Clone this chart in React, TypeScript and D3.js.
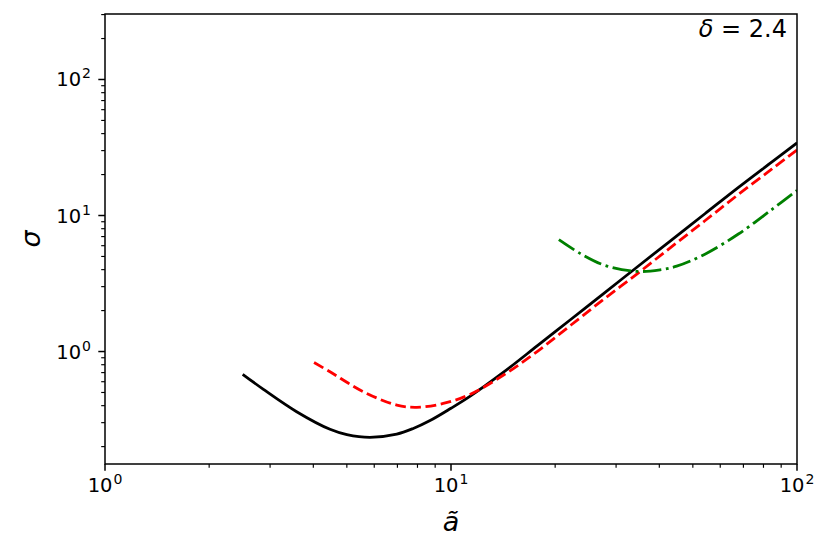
import React from "react";
import * as d3 from "d3";

const W = 830;
const H = 554;
const M = { left: 105, right: 797, top: 14, bottom: 464 };

// Solid black curve (ã, σ)
const blackA = [2.5, 2.87, 3.58, 4.47, 5.0, 5.83, 6.97, 7.78, 8.7, 10, 11.34, 14.19, 17.74, 22.18, 27.72, 34.67, 43.36, 54.18, 67.74, 84.67, 100];
const blackS = [0.68, 0.527, 0.361, 0.268, 0.245, 0.234, 0.247, 0.272, 0.311, 0.383, 0.468, 0.705, 1.1, 1.72, 2.69, 4.22, 6.6, 10.3, 16.1, 24.8, 34.2];

// Red dashed curve
const redA = [4.02, 4.47, 5.58, 6.97, 7.96, 9.5, 11.34, 14.19, 17.74, 22.18, 27.72, 34.67, 43.36, 54.18, 67.74, 84.67, 100];
const redS = [0.83, 0.71, 0.506, 0.404, 0.389, 0.415, 0.484, 0.672, 1.0, 1.56, 2.44, 3.76, 5.88, 9.15, 14.3, 22.0, 30.3];

// Green dash-dot curve
const greenA = [20.5, 23.6, 28.0, 34.5, 40.2, 44.9, 54.2, 67.7, 84.7, 100];
const greenS = [6.64, 5.27, 4.28, 3.88, 3.99, 4.24, 5.2, 7.31, 11.1, 15.3];

const xMajor = [1, 10, 100];
const xMajorExp = ["0", "1", "2"];
const yMajor = [1, 10, 100];
const yMajorExp = ["0", "1", "2"];

const xDomain = [1, 100];
const yDomain = [0.149, 303];

export default function App() {
  const x = d3.scaleLog().domain(xDomain).range([M.left, M.right]);
  const y = d3.scaleLog().domain(yDomain).range([M.bottom, M.top]);

  const line = d3
    .line<[number, number]>()
    .x((d) => x(d[0]))
    .y((d) => y(d[1]))
    .curve(d3.curveCatmullRom.alpha(0.5));

  const zip = (a: number[], s: number[]) => a.map((v, i) => [v, s[i]] as [number, number]);

  const xMinor: number[] = [];
  for (const dec of [1, 10]) for (let k = 2; k <= 9; k++) xMinor.push(dec * k);
  const yMinor: number[] = [];
  for (const dec of [0.1, 1, 10, 100]) for (let k = 2; k <= 9; k++) {
    const v = dec * k;
    if (v >= yDomain[0] && v <= yDomain[1]) yMinor.push(v);
  }

  const font = "DejaVu Sans, sans-serif";
  const fs = 19.5;
  const sup = 14;

  return (
    <svg width={W} height={H} style={{ position: "absolute", left: 0, top: 0, background: "#fff" }}>
      <rect x={0} y={0} width={W} height={H} fill="#fff" />
      <defs>
        <clipPath id="plotclip">
          <rect x={M.left} y={M.top} width={M.right - M.left} height={M.bottom - M.top} />
        </clipPath>
      </defs>
      <g clipPath="url(#plotclip)" fill="none" strokeLinejoin="round">
        <path d={line(zip(blackA, blackS)) || ""} stroke="#000" strokeWidth={2.8} />
        <path d={line(zip(redA, redS)) || ""} stroke="#ff0000" strokeWidth={2.8} strokeDasharray="10.7 4.6" />
        <path d={line(zip(greenA, greenS)) || ""} stroke="#008000" strokeWidth={2.8} strokeDasharray="18.4 4.6 2.9 4.6" />
      </g>
      <rect x={M.left} y={M.top} width={M.right - M.left} height={M.bottom - M.top} fill="none" stroke="#000" strokeWidth={1.5} />
      {xMajor.map((v, i) => (
        <g key={"xm" + i}>
          <line x1={x(v)} x2={x(v)} y1={M.bottom} y2={M.bottom + 6.7} stroke="#000" strokeWidth={1.5} />
          <text x={x(v)} y={M.bottom + 28} textAnchor="middle" fontFamily={font} fontSize={fs}>
            10<tspan fontSize={sup} dx={1} dy={-8}>{xMajorExp[i]}</tspan>
          </text>
        </g>
      ))}
      {xMinor.map((v, i) => (
        <line key={"xn" + i} x1={x(v)} x2={x(v)} y1={M.bottom} y2={M.bottom + 3.8} stroke="#000" strokeWidth={1.15} />
      ))}
      {yMajor.map((v, i) => (
        <g key={"ym" + i}>
          <line x1={M.left} x2={M.left - 6.7} y1={y(v)} y2={y(v)} stroke="#000" strokeWidth={1.5} />
          <text x={M.left - 14} y={y(v) + 7} textAnchor="end" fontFamily={font} fontSize={fs}>
            10<tspan fontSize={sup} dx={1} dy={-8}>{yMajorExp[i]}</tspan>
          </text>
        </g>
      ))}
      {yMinor.map((v, i) => (
        <line key={"yn" + i} x1={M.left} x2={M.left - 3.8} y1={y(v)} y2={y(v)} stroke="#000" strokeWidth={1.15} />
      ))}
      <text x={(M.left + M.right) / 2} y={531} textAnchor="middle" fontFamily={font} fontSize={27} fontStyle="italic">
        ã
      </text>
      <text
        transform={`translate(40, ${(M.top + M.bottom) / 2}) rotate(-90)`}
        textAnchor="middle"
        fontFamily={font}
        fontSize={27}
        fontStyle="italic"
      >
        σ
      </text>
      <text x={787} y={37} textAnchor="end" fontFamily={font} fontSize={24}>
        <tspan fontStyle="italic">δ</tspan> = 2.4
      </text>
    </svg>
  );
}
